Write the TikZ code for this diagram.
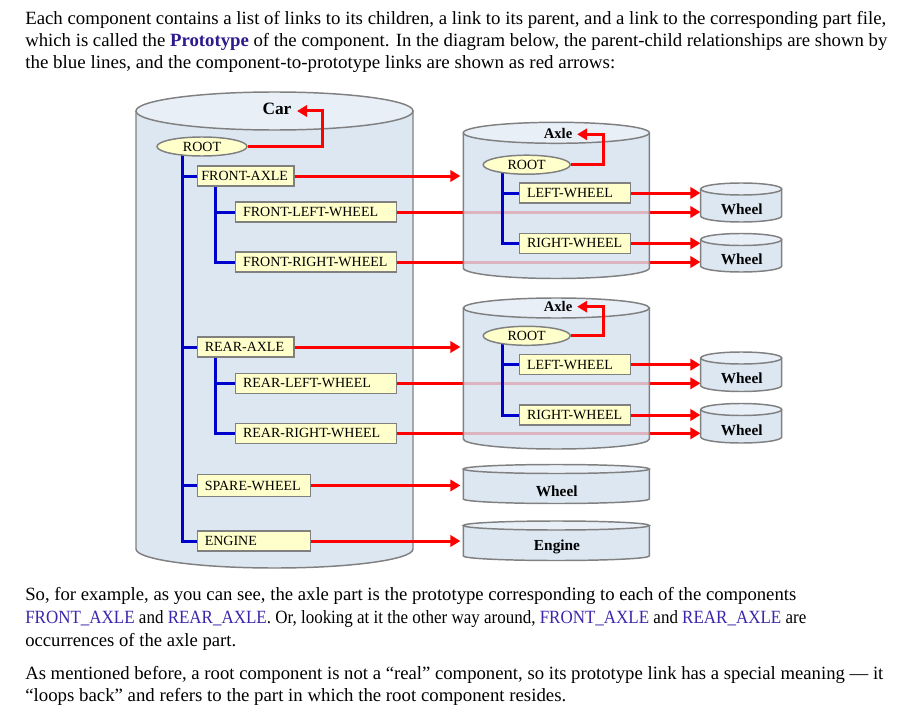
\documentclass[tikz,border=0pt]{standalone}
\usepackage{fontspec}
\setmainfont{Liberation Serif}
\usepackage{graphicx}
\usetikzlibrary{arrows.meta,shapes.geometric,fit}
\definecolor{cylB}{RGB}{211,225,239}
\definecolor{cylT}{RGB}{233,239,247}
\definecolor{cylL}{RGB}{128,128,128}
\definecolor{boxF}{RGB}{255,255,204}
\definecolor{lnB}{RGB}{0,0,204}
\definecolor{lnR}{RGB}{255,0,0}
\definecolor{protoC}{RGB}{46,26,140}
\definecolor{linkC}{RGB}{58,38,170}
\pgfdeclarelayer{lA}
\pgfdeclarelayer{lB}
\pgfdeclarelayer{lC}
\pgfdeclarelayer{lD}
\pgfdeclarelayer{lE}
\pgfdeclarelayer{lF}
\pgfsetlayers{lA,lB,lC,lD,lE,lF,main}
\newcommand\cylshape[5]{%
  \fill[cylfill] (#1,#3) -- (#1,#4) arc[start angle=180,end angle=0,x radius={(#2-#1)/2},y radius=#5] -- (#2,#3) -- cycle;
  \draw[cylline] (#1,#3) -- (#1,#4) arc[start angle=180,end angle=0,x radius={(#2-#1)/2},y radius=#5] -- (#2,#3);
  \filldraw[cyltop] ({(#1+#2)/2},#3) ellipse[x radius={(#2-#1)/2},y radius=#5];
}
\newcommand\bxt[2]{\makebox[#1][l]{#2}}
\newcommand\bxp[2]{\makebox[#1][l]{\hspace{2.5pt}#2}}
\begin{document}
\begin{tikzpicture}[x=0.75pt,y=-0.75pt,
  cylfill/.style={fill=cylB,fill opacity=0.8},
  cylline/.style={draw=cylL,line width=1.1pt},
  cyltop/.style={fill=cylT,draw=cylL,line width=1.1pt},
  compbox/.style={draw=cylL,fill=boxF,line width=1.1pt,inner xsep=3pt,inner ysep=0pt,
    minimum height=15pt,anchor=west,font=\fontsize{10.5}{12}\selectfont},
  rootell/.style={ellipse,draw=cylL,fill=boxF,line width=1.1pt,inner sep=0pt,
    minimum height=14.25pt,font=\fontsize{10.5}{12}\selectfont},
  blueline/.style={draw=lnB,line width=2.25pt},
  redarrow/.style={draw=lnR,line width=2.25pt,-{Triangle[length=7.5pt,width=8.5pt]}},
  cyllabel/.style={font=\bfseries\fontsize{11.5}{13}\selectfont,inner sep=0pt},
  bodytext/.style={anchor=base west,inner sep=0pt,font=\fontsize{14}{16}\selectfont},
  hidden/.style={inner sep=0pt}]
\useasboundingbox (0,0) rectangle (907,724);
% invisible frames of the parts
\node[hidden,fit={(136,92)(413,568)}] (car) {};
\node[hidden,fit={(463.3,122.3)(649.3,278.5)}] (ax1) {};
\node[hidden,fit={(463.3,298)(649.3,449)}] (ax2) {};
\node[hidden,fit={(700.7,183)(781.7,222)}] (w1) {};
\node[hidden,fit={(700.7,233.5)(781.7,272)}] (w2) {};
\node[hidden,fit={(700.7,352)(781.7,391.5)}] (w3) {};
\node[hidden,fit={(700.7,403.5)(781.7,443)}] (w4) {};
\node[hidden,fit={(463.3,464.5)(649.3,503.5)}] (sw) {};
\node[hidden,fit={(463.3,521)(649.3,560.5)}] (eng) {};
\coordinate (ctrunk) at (182,0);
\coordinate (ftrunk) at (215,0);
\coordinate (rtrunk) at (215,0);
\coordinate (a1trunk) at (502.7,0);
\coordinate (a2trunk) at (502.7,0);
\coordinate (cloop) at (322,111);
\coordinate (a1loop) at (603,134.3);
\coordinate (a2loop) at (603,306.7);

% Car part
\begin{pgfonlayer}{lA}
\cylshape{136}{413}{111}{549}{19}
\end{pgfonlayer}
\begin{pgfonlayer}{lC}
\path (202,146.5) node[rootell,minimum width=67.5pt] (croot) {ROOT};
\path (196.7,176) node[compbox] (cfa) {\bxt{66.5pt}{FRONT-AXLE}};
\path (235,212) node[compbox] (cflw) {\bxp{114.75pt}{FRONT-LEFT-WHEEL}};
\path (235,262) node[compbox] (cfrw) {\bxp{114.75pt}{FRONT-RIGHT-WHEEL}};
\path (196.7,347) node[compbox] (cra) {\bxp{66.5pt}{REAR-AXLE}};
\path (235,383.3) node[compbox] (crlw) {\bxp{114.75pt}{REAR-LEFT-WHEEL}};
\path (235,433.3) node[compbox] (crrw) {\bxp{114.75pt}{REAR-RIGHT-WHEEL}};
\path (196.7,485.5) node[compbox,minimum height=16.5pt] (csw) {\bxp{78.75pt}{SPARE-WHEEL}};
\path (196.7,541) node[compbox] (cen) {\bxp{78.75pt}{ENGINE}};
\end{pgfonlayer}
\begin{pgfonlayer}{lB}
\foreach \c in {cfa,cra,csw,cen}{\draw[blueline] (croot.center -| ctrunk) |- (\c.west);}
\foreach \c in {cflw,cfrw}{\draw[blueline] (cfa.center -| ftrunk) |- (\c.west);}
\foreach \c in {crlw,crrw}{\draw[blueline] (cra.center -| rtrunk) |- (\c.west);}
\end{pgfonlayer}

% prototype links from the car
\begin{pgfonlayer}{lD}
\draw[redarrow,shorten >=2pt] (cfa.east) -- (cfa.east -| ax1.west);
\draw[redarrow] (cflw.east) -- (cflw.east -| w1.west);
\draw[redarrow] (cfrw.east) -- (cfrw.east -| w2.west);
\draw[redarrow,shorten >=2pt] (cra.east) -- (cra.east -| ax2.west);
\draw[redarrow] (crlw.east) -- (crlw.east -| w3.west);
\draw[redarrow] (crrw.east) -- (crrw.east -| w4.west);
\draw[redarrow,shorten >=2pt] (csw.east) -- (csw.east -| sw.west);
\draw[redarrow,shorten >=2pt] (cen.east) -- (cen.east -| eng.west);
\end{pgfonlayer}

% axle parts and others
\begin{pgfonlayer}{lE}
\cylshape{463.3}{649.3}{132.8}{268}{10.5}
\cylshape{463.3}{649.3}{308}{439}{10}
\cylshape{463.3}{649.3}{469}{499}{4.5}
\cylshape{463.3}{649.3}{525.5}{556}{4.5}
\end{pgfonlayer}

\path (558,133) node[cyllabel,font=\bfseries\fontsize{11}{13}\selectfont,inner xsep=3.5pt] (a1lbl) {Axle};
\path (558,306) node[cyllabel,font=\bfseries\fontsize{11}{13}\selectfont,inner xsep=3.5pt] (a2lbl) {Axle};
\path (556.7,491) node[cyllabel] (swlbl) {Wheel};
\path (557,547) node[cyllabel] (englbl) {Engine};

\path (526.7,164.7) node[rootell,minimum width=65.25pt] (a1root) {ROOT};
\path (519,193) node[compbox] (a1lw) {\bxp{77.25pt}{LEFT-WHEEL}};
\path (519,243.3) node[compbox] (a1rw) {\bxp{77.25pt}{RIGHT-WHEEL}};
\path (526.7,335.8) node[rootell,minimum width=65.25pt] (a2root) {ROOT};
\path (519,364.7) node[compbox] (a2lw) {\bxp{77.25pt}{LEFT-WHEEL}};
\path (519,415) node[compbox] (a2rw) {\bxp{77.25pt}{RIGHT-WHEEL}};
\begin{pgfonlayer}{lF}
\foreach \c in {a1lw,a1rw}{\draw[blueline] (a1root.center -| a1trunk) |- (\c.west);}
\foreach \c in {a2lw,a2rw}{\draw[blueline] (a2root.center -| a2trunk) |- (\c.west);}
\end{pgfonlayer}

\draw[redarrow] (a1lw.east) -- (a1lw.east -| w1.west);
\draw[redarrow] (a1rw.east) -- (a1rw.east -| w2.west);
\draw[redarrow] (a2lw.east) -- (a2lw.east -| w3.west);
\draw[redarrow] (a2rw.east) -- (a2rw.east -| w4.west);

% wheel parts
\cylshape{700.7}{781.7}{189}{216}{6}
\cylshape{700.7}{781.7}{239.5}{266}{6}
\cylshape{700.7}{781.7}{358}{385.5}{6}
\cylshape{700.7}{781.7}{409.5}{437}{6}
\path (741.7,209) node[cyllabel] (w1lbl) {Wheel};
\path (741.7,259) node[cyllabel] (w2lbl) {Wheel};
\path (741.7,378) node[cyllabel] (w3lbl) {Wheel};
\path (741.7,430) node[cyllabel] (w4lbl) {Wheel};

% car label and loop-back links
\path (277,109) node[cyllabel,font=\bfseries\fontsize{13}{15}\selectfont,inner xsep=4pt] (carlbl) {Car};
\draw[redarrow] (croot.east) -| (cloop) -- (carlbl.east |- cloop);
\draw[redarrow] (a1root.east) -| (a1loop) -- (a1lbl.east |- a1loop);
\draw[redarrow] (a2root.east) -| (a2loop) -- (a2lbl.east |- a2loop);

% text
\node[bodytext] (t1) at (25,25) {\resizebox{645.75pt}{\height}{Each component contains a list of links to its children, a link to its parent, and a link to the corresponding part file,}};
\node[bodytext] (t2) at (25,46.7) {\resizebox{646.5pt}{\height}{which is called the \textbf{\color{protoC}Prototype} of the component. In the diagram below, the parent-child relationships are shown by}};
\node[bodytext] (t3) at (25,68.3) {\resizebox{442.5pt}{\height}{the blue lines, and the component-to-prototype links are shown as red arrows:}};
\node[bodytext] (b1) at (25,600.7) {\resizebox{578.25pt}{\height}{So, for example, as you can see, the axle part is the prototype corresponding to each of the components}};
\node[bodytext] (b2) at (25,623.3) {\resizebox{585.75pt}{\height}{{\color{linkC}FRONT\_AXLE} and {\color{linkC}REAR\_AXLE}. Or, looking at it the other way around, {\color{linkC}FRONT\_AXLE} and {\color{linkC}REAR\_AXLE} are}};
\node[bodytext] (b3) at (25,646) {\resizebox{158.25pt}{\height}{occurrences of the axle part.}};
\node[bodytext] (b4) at (25,679.3) {\resizebox{643.5pt}{\height}{As mentioned before, a root component is not a “real” component, so its prototype link has a special meaning — it}};
\node[bodytext] (b5) at (25,701.7) {\resizebox{405.75pt}{\height}{“loops back” and refers to the part in which the root component resides.}};
\end{tikzpicture}
\end{document}
